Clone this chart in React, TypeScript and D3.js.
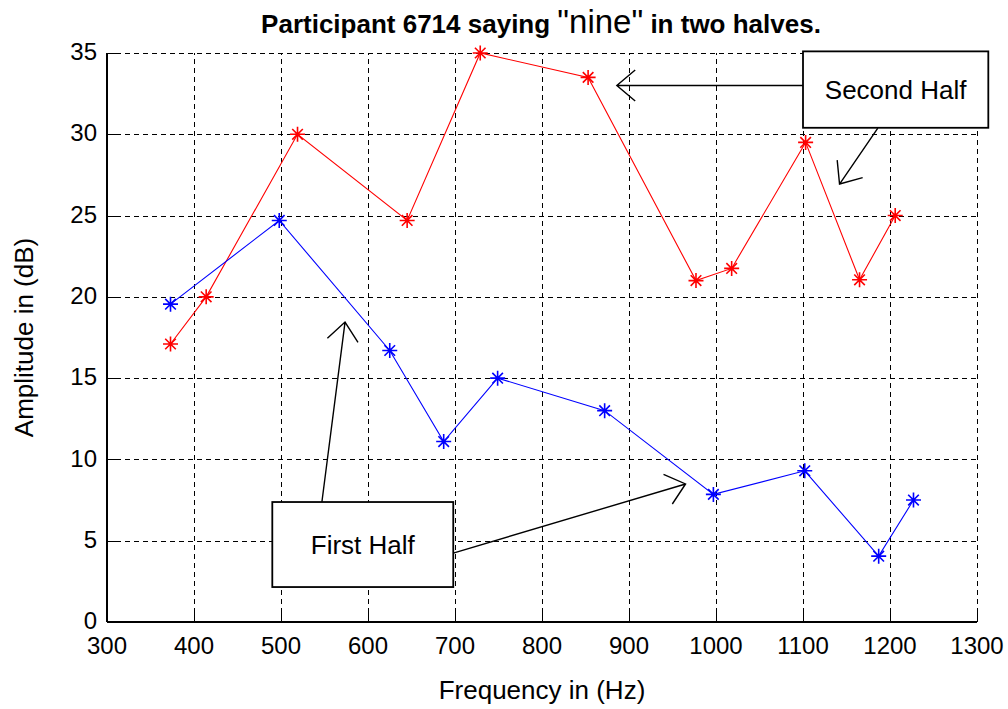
import React from 'react';
import * as d3 from 'd3';

// Second half (red)
const freqSecond = [373, 414, 519, 645, 729, 853, 977, 1018, 1103, 1165, 1206];
const ampSecond = [17.1, 20.0, 30.0, 24.7, 35.0, 33.5, 21.0, 21.75, 29.5, 21.05, 25.0];
// First half (blue)
const freqFirst = [373, 498, 625, 687, 749, 872, 997, 1102, 1187, 1227];
const ampFirst = [19.55, 24.7, 16.7, 11.1, 15.0, 13.0, 7.85, 9.3, 4.05, 7.5];

const xTicks = [300, 400, 500, 600, 700, 800, 900, 1000, 1100, 1200, 1300];
const yTicks = [0, 5, 10, 15, 20, 25, 30, 35];

// annotations in data units [Hz, dB]
const boxes = [
  { label: 'Second Half', x0: 1100, x1: 1313, y0: 30.4, y1: 35.1 },
  { label: 'First Half', x0: 490, x1: 698, y0: 2.15, y1: 7.38 },
];
const arrows = [
  { from: [1100, 33.0], to: [886, 33.0] },
  { from: [1186, 30.38], to: [1142, 26.94] },
  { from: [547, 7.38], to: [573.6, 18.45] },
  { from: [698, 4.24], to: [965, 8.49] },
];

const FONT = 'Arial, "Liberation Sans", Helvetica, sans-serif';

export default function App() {
  const W = 1008, H = 709;
  const x = d3.scaleLinear().domain([300, 1300]).range([107, 977]);
  const y = d3.scaleLinear().domain([0, 35]).range([622, 53]);
  const line = d3.line<[number, number]>().x(d => x(d[0])).y(d => y(d[1]));
  const red = freqSecond.map((f, i) => [f, ampSecond[i]] as [number, number]);
  const blue = freqFirst.map((f, i) => [f, ampFirst[i]] as [number, number]);

  const star = (px: number, py: number, color: string, k: string) => {
    const r = 7.5, d = 5.3;
    return (
      <path key={k} d={`M${px - r},${py}H${px + r}M${px},${py - r}V${py + r}M${px - d},${py - d}L${px + d},${py + d}M${px - d},${py + d}L${px + d},${py - d}`}
        stroke={color} strokeWidth={1.6} fill="none" />
    );
  };

  const arrowPath = (a: { from: number[]; to: number[] }) => {
    const x0 = x(a.from[0]), y0 = y(a.from[1]), x1 = x(a.to[0]), y1 = y(a.to[1]);
    const ang = Math.atan2(y0 - y1, x0 - x1);
    const L = 24, s = (40 * Math.PI) / 180;
    const w1 = [x1 + L * Math.cos(ang + s), y1 + L * Math.sin(ang + s)];
    const w2 = [x1 + L * Math.cos(ang - s), y1 + L * Math.sin(ang - s)];
    return `M${x0},${y0}L${x1},${y1}M${w1[0]},${w1[1]}L${x1},${y1}L${w2[0]},${w2[1]}`;
  };

  const [xl, xr] = x.range();
  const [yb, yt] = y.range();

  return (
    <svg width={W} height={H} style={{ position: 'absolute', left: 0, top: 0, background: '#fff' }} fontFamily={FONT}>
      <rect x={0} y={0} width={W} height={H} fill="#fff" />
      {/* grid */}
      <g stroke="#000" strokeWidth={1} strokeDasharray="5,4" shapeRendering="crispEdges">
        {xTicks.slice(1).map(t => (
          <line key={'gx' + t} x1={Math.round(x(t)) + 0.5} x2={Math.round(x(t)) + 0.5} y1={yb} y2={yt} />
        ))}
        {yTicks.slice(1).map(t => (
          <line key={'gy' + t} x1={xl} x2={xr} y1={Math.round(y(t)) + 0.5} y2={Math.round(y(t)) + 0.5} />
        ))}
      </g>
      {/* ticks */}
      <g stroke="#000" strokeWidth={1} shapeRendering="crispEdges">
        {xTicks.map(t => (
          <line key={'tx' + t} x1={Math.round(x(t)) + 0.5} x2={Math.round(x(t)) + 0.5} y1={yb} y2={yb - 9} />
        ))}
        {yTicks.map(t => (
          <line key={'ty' + t} x1={xl} x2={xl + 9} y1={Math.round(y(t)) + 0.5} y2={Math.round(y(t)) + 0.5} />
        ))}
      </g>
      {/* axes */}
      <g stroke="#000" strokeWidth={1.6} fill="none" shapeRendering="crispEdges">
        <line x1={xl} x2={xl} y1={yb} y2={yt} />
        <line x1={xl} x2={xr} y1={yb} y2={yb} />
      </g>
      {/* tick labels */}
      <g fontSize={24} fill="#000">
        {xTicks.map(t => (
          <text key={'lx' + t} x={x(t)} y={yb + 32} textAnchor="middle">{t}</text>
        ))}
        {yTicks.map(t => (
          <text key={'ly' + t} x={xl - 10} y={y(t)} dy="0.3em" textAnchor="end">{t}</text>
        ))}
      </g>
      {/* series */}
      <path d={line(red) || ''} stroke="#ff0000" strokeWidth={1.1} fill="none" />
      <path d={line(blue) || ''} stroke="#0000ff" strokeWidth={1.1} fill="none" />
      {red.map((p, i) => star(x(p[0]), y(p[1]), '#ff0000', 'r' + i))}
      {blue.map((p, i) => star(x(p[0]), y(p[1]), '#0000ff', 'b' + i))}
      {/* annotations */}
      {boxes.map(b => (
        <g key={b.label}>
          <rect x={x(b.x0)} y={y(b.y1)} width={x(b.x1) - x(b.x0)} height={y(b.y0) - y(b.y1)}
            fill="#fff" stroke="#000" strokeWidth={1.8} />
          <text x={(x(b.x0) + x(b.x1)) / 2} y={(y(b.y0) + y(b.y1)) / 2} dy="0.36em" textAnchor="middle"
            fontSize={26} fill="#000">{b.label}</text>
        </g>
      ))}
      {arrows.map((a, i) => (
        <path key={'a' + i} d={arrowPath(a)} stroke="#000" strokeWidth={1.4} fill="none" />
      ))}
      {/* axis labels */}
      <text x={(xl + xr) / 2} y={699} textAnchor="middle" fontSize={26} fill="#000">Frequency in (Hz)</text>
      <text transform={`translate(33,${(yb + yt) / 2}) rotate(-90)`} textAnchor="middle" fontSize={26} fill="#000">Amplitude in (dB)</text>
      {/* title */}
      <text x={541} y={33} textAnchor="middle" fill="#000" style={{ whiteSpace: 'pre' }}>
        <tspan fontWeight="bold" fontSize={26}>{'Participant 6714 saying '}</tspan>
        <tspan fontSize={33}>{'"nine"'}</tspan>
        <tspan fontWeight="bold" fontSize={26}>{' in two halves.'}</tspan>
      </text>
    </svg>
  );
}
